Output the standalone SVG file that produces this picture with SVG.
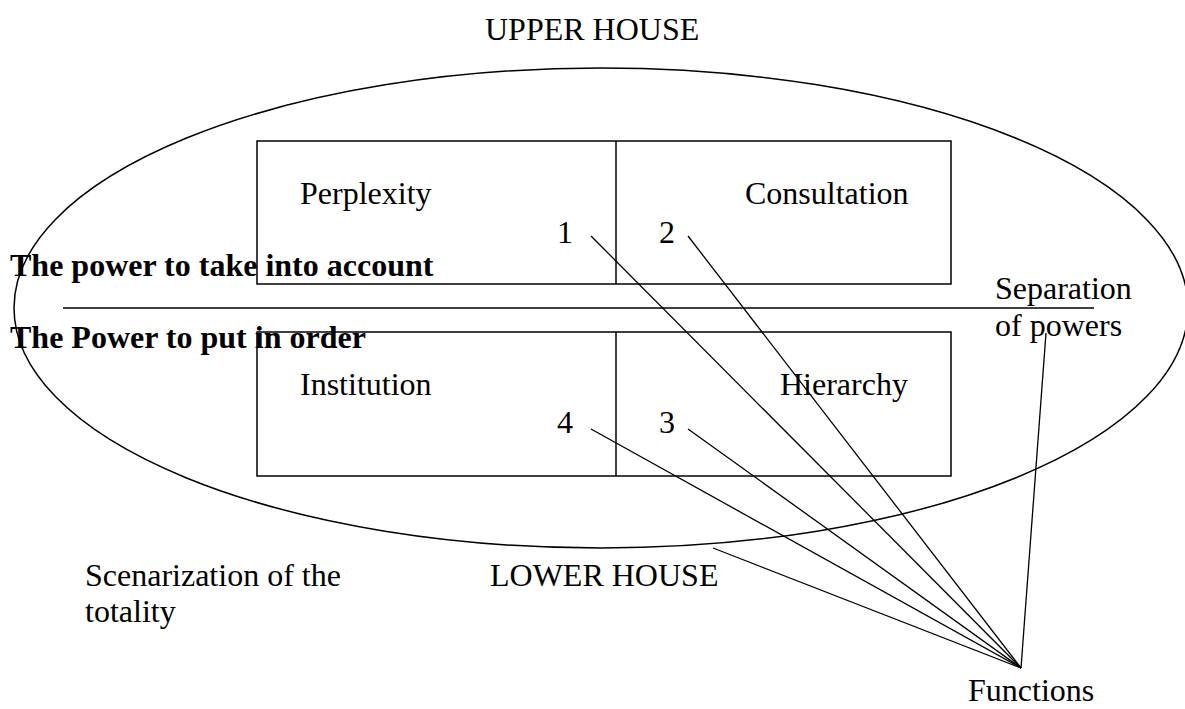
<svg xmlns="http://www.w3.org/2000/svg" width="1185" height="709" viewBox="0 0 1185 709">
<style>
  .t { font-family: "Liberation Serif", "Times New Roman", serif; font-size: 32px; fill: #000; }
  .b { font-family: "Liberation Serif", "Times New Roman", serif; font-size: 32px; font-weight: bold; fill: #000; }
  .s { fill: none; stroke: #000; stroke-width: 1.5; }
  .c { fill: none; stroke: #000; stroke-width: 1.3; }
</style>
<rect width="1185" height="709" fill="#fff"/>
<g id="ellipse"><ellipse class="s" cx="601" cy="308" rx="587" ry="240"/></g>
<g id="upper-house"><text class="t" x="485" y="40">UPPER HOUSE</text></g>
<g id="upper-box">
  <rect class="s" x="257" y="141" width="694" height="143"/>
  <line class="s" x1="616" y1="141" x2="616" y2="284"/>
  <text class="t" x="300" y="204">Perplexity</text>
  <text class="t" x="745" y="204">Consultation</text>
  <text class="t" x="557" y="243">1</text>
  <text class="t" x="659" y="243">2</text>
</g>
<g id="lower-box">
  <rect class="s" x="257" y="332" width="694" height="144"/>
  <line class="s" x1="616" y1="332" x2="616" y2="476"/>
  <text class="t" x="300" y="395">Institution</text>
  <text class="t" x="780" y="395">Hierarchy</text>
  <text class="t" x="557" y="433">4</text>
  <text class="t" x="659" y="433">3</text>
</g>
<g id="divider"><line class="s" x1="63" y1="308" x2="1094" y2="308"/></g>
<g id="power-take"><text class="b" x="10" y="276">The power to take into account</text></g>
<g id="power-order"><text class="b" x="10" y="348">The Power to put in order</text></g>
<g id="separation">
  <text class="t" x="995" y="299">Separation</text>
  <text class="t" x="995" y="336">of powers</text>
</g>
<g id="scenarization">
  <text class="t" x="85" y="586">Scenarization of the</text>
  <text class="t" x="85" y="622">totality</text>
</g>
<g id="lower-house"><text class="t" x="490" y="586">LOWER HOUSE</text></g>
<g id="functions"><text class="t" x="968" y="701">Functions</text></g>
<g id="connectors">
  <line class="c" x1="591" y1="236" x2="1021" y2="668"/>
  <line class="c" x1="688" y1="236" x2="1021" y2="668"/>
  <line class="c" x1="591" y1="429" x2="1021" y2="668"/>
  <line class="c" x1="688" y1="429" x2="1021" y2="668"/>
  <line class="c" x1="713" y1="548" x2="1021" y2="668"/>
  <line class="c" x1="1046" y1="333" x2="1021" y2="668"/>
</g>
</svg>
